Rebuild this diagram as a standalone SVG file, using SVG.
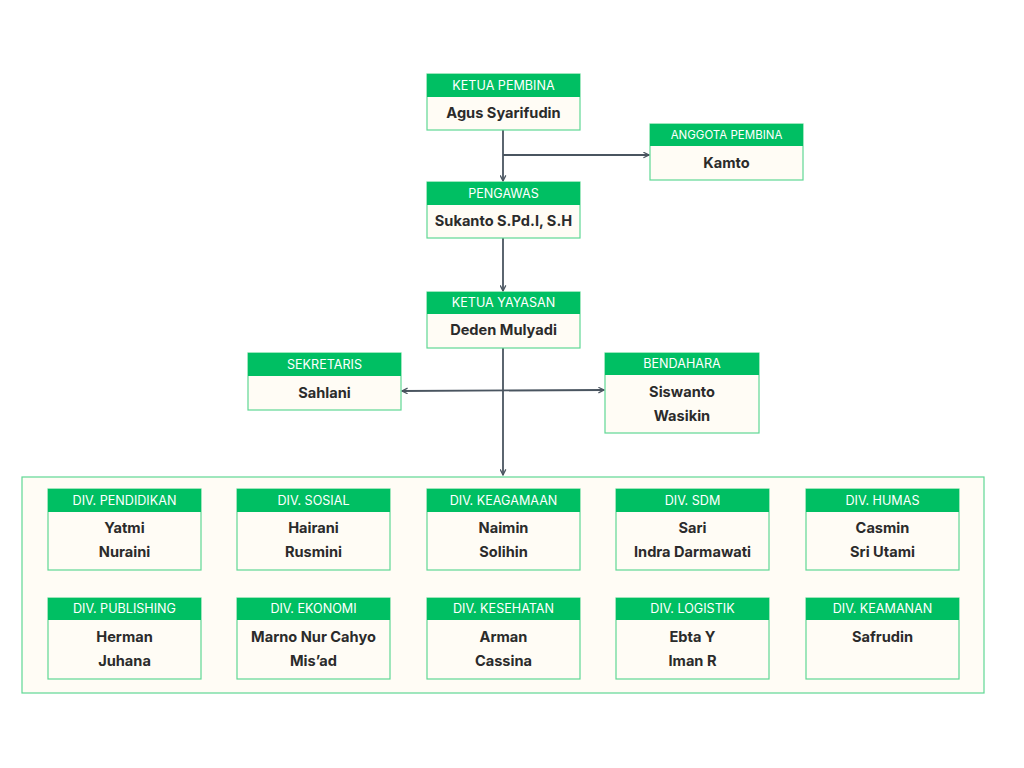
<svg xmlns="http://www.w3.org/2000/svg" width="1024" height="768" viewBox="0 0 1024 768">
<defs>
<style>
.hd{fill:#00BF63;}
.bd{fill:#FFFCF5;stroke:#5FD894;stroke-width:1.2;}
.ht{font-family:Inter,"Liberation Sans",sans-serif;font-size:12.6px;fill:#FFFFFF;text-anchor:middle;}
.nt{font-family:Inter,"Liberation Sans",sans-serif;font-size:14.6px;font-weight:bold;fill:#2B2B2B;text-anchor:middle;}
.ln{stroke:#4A5560;stroke-width:1.8;fill:none;}
</style>
<marker id="ar" viewBox="0 0 10 10" refX="9" refY="5" markerWidth="7" markerHeight="7" orient="auto-start-reverse" markerUnits="userSpaceOnUse">
<path d="M1,1 L9,5 L1,9" fill="none" stroke="#4A5560" stroke-width="1.8"/>
</marker>
</defs>
<rect width="1024" height="768" fill="#FFFFFF"/>
<g id="container">
<rect x="22" y="477" width="962" height="216" fill="#FFFCF5" stroke="#5FD894" stroke-width="1.2"/>
</g>
<g id="connectors">
<line class="ln" x1="503" y1="130" x2="503" y2="181" marker-end="url(#ar)"/>
<line class="ln" x1="503" y1="155" x2="649" y2="155" marker-end="url(#ar)"/>
<line class="ln" x1="503" y1="238" x2="503" y2="291" marker-end="url(#ar)"/>
<line class="ln" x1="503" y1="348" x2="503" y2="475" marker-end="url(#ar)"/>
<line class="ln" x1="402" y1="391" x2="604" y2="390" marker-start="url(#ar)" marker-end="url(#ar)"/>
</g>
<g id="ketua-pembina">
<rect class="bd" x="427" y="74" width="153" height="56"/>
<rect class="hd" x="427" y="74" width="153" height="23"/>
<text class="ht" x="503.5" y="90">KETUA PEMBINA</text>
<text class="nt" x="503.5" y="118">Agus Syarifudin</text>
</g>
<g id="anggota-pembina">
<rect class="bd" x="650" y="124" width="153" height="56"/>
<rect class="hd" x="650" y="124" width="153" height="22"/>
<text class="ht" x="726.5" y="139" style="font-size:11.5px">ANGGOTA PEMBINA</text>
<text class="nt" x="726.5" y="168">Kamto</text>
</g>
<g id="pengawas">
<rect class="bd" x="427" y="182" width="153" height="56"/>
<rect class="hd" x="427" y="182" width="153" height="23"/>
<text class="ht" x="503.5" y="198">PENGAWAS</text>
<text class="nt" x="503.5" y="226">Sukanto S.Pd.I, S.H</text>
</g>
<g id="ketua-yayasan">
<rect class="bd" x="427" y="292" width="153" height="56"/>
<rect class="hd" x="427" y="292" width="153" height="22"/>
<text class="ht" x="503.5" y="307">KETUA YAYASAN</text>
<text class="nt" x="503.5" y="335">Deden Mulyadi</text>
</g>
<g id="sekretaris">
<rect class="bd" x="248" y="353" width="153" height="57"/>
<rect class="hd" x="248" y="353" width="153" height="23"/>
<text class="ht" x="324.5" y="369">SEKRETARIS</text>
<text class="nt" x="324.5" y="398">Sahlani</text>
</g>
<g id="bendahara">
<rect class="bd" x="605" y="353" width="154" height="80"/>
<rect class="hd" x="605" y="353" width="154" height="22"/>
<text class="ht" x="682" y="368">BENDAHARA</text>
<text class="nt" x="682" y="397">Siswanto</text>
<text class="nt" x="682" y="421">Wasikin</text>
</g>
<g id="div-pendidikan">
<rect class="bd" x="48" y="489" width="153" height="81"/>
<rect class="hd" x="48" y="489" width="153" height="23"/>
<text class="ht" x="124.5" y="505">DIV. PENDIDIKAN</text>
<text class="nt" x="124.5" y="533">Yatmi</text>
<text class="nt" x="124.5" y="557">Nuraini</text>
</g>
<g id="div-sosial">
<rect class="bd" x="237" y="489" width="153" height="81"/>
<rect class="hd" x="237" y="489" width="153" height="23"/>
<text class="ht" x="313.5" y="505">DIV. SOSIAL</text>
<text class="nt" x="313.5" y="533">Hairani</text>
<text class="nt" x="313.5" y="557">Rusmini</text>
</g>
<g id="div-keagamaan">
<rect class="bd" x="427" y="489" width="153" height="81"/>
<rect class="hd" x="427" y="489" width="153" height="23"/>
<text class="ht" x="503.5" y="505">DIV. KEAGAMAAN</text>
<text class="nt" x="503.5" y="533">Naimin</text>
<text class="nt" x="503.5" y="557">Solihin</text>
</g>
<g id="div-sdm">
<rect class="bd" x="616" y="489" width="153" height="81"/>
<rect class="hd" x="616" y="489" width="153" height="23"/>
<text class="ht" x="692.5" y="505">DIV. SDM</text>
<text class="nt" x="692.5" y="533">Sari</text>
<text class="nt" x="692.5" y="557">Indra Darmawati</text>
</g>
<g id="div-humas">
<rect class="bd" x="806" y="489" width="153" height="81"/>
<rect class="hd" x="806" y="489" width="153" height="23"/>
<text class="ht" x="882.5" y="505">DIV. HUMAS</text>
<text class="nt" x="882.5" y="533">Casmin</text>
<text class="nt" x="882.5" y="557">Sri Utami</text>
</g>
<g id="div-publishing">
<rect class="bd" x="48" y="598" width="153" height="81"/>
<rect class="hd" x="48" y="598" width="153" height="22"/>
<text class="ht" x="124.5" y="613">DIV. PUBLISHING</text>
<text class="nt" x="124.5" y="642">Herman</text>
<text class="nt" x="124.5" y="666">Juhana</text>
</g>
<g id="div-ekonomi">
<rect class="bd" x="237" y="598" width="153" height="81"/>
<rect class="hd" x="237" y="598" width="153" height="22"/>
<text class="ht" x="313.5" y="613">DIV. EKONOMI</text>
<text class="nt" x="313.5" y="642">Marno Nur Cahyo</text>
<text class="nt" x="313.5" y="666">Mis’ad</text>
</g>
<g id="div-kesehatan">
<rect class="bd" x="427" y="598" width="153" height="81"/>
<rect class="hd" x="427" y="598" width="153" height="22"/>
<text class="ht" x="503.5" y="613">DIV. KESEHATAN</text>
<text class="nt" x="503.5" y="642">Arman</text>
<text class="nt" x="503.5" y="666">Cassina</text>
</g>
<g id="div-logistik">
<rect class="bd" x="616" y="598" width="153" height="81"/>
<rect class="hd" x="616" y="598" width="153" height="22"/>
<text class="ht" x="692.5" y="613">DIV. LOGISTIK</text>
<text class="nt" x="692.5" y="642">Ebta Y</text>
<text class="nt" x="692.5" y="666">Iman R</text>
</g>
<g id="div-keamanan">
<rect class="bd" x="806" y="598" width="153" height="81"/>
<rect class="hd" x="806" y="598" width="153" height="22"/>
<text class="ht" x="882.5" y="613">DIV. KEAMANAN</text>
<text class="nt" x="882.5" y="642">Safrudin</text>
</g>
</svg>
